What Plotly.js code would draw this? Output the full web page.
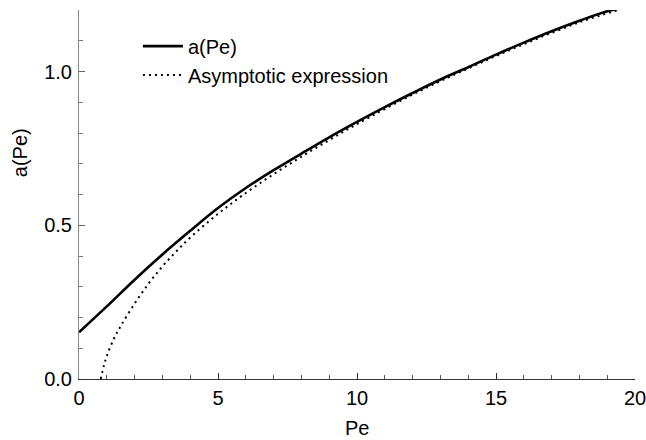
<!DOCTYPE html>
<html>
<head>
<meta charset="utf-8">
<script src="https://cdn.plot.ly/plotly-3.0.1.min.js"></script>
<style>html,body{margin:0;padding:0;background:#fff;}#chart{width:646px;height:440px;}</style>
</head>
<body>
<div id="chart"></div>
<script>
// a(Pe) curve
const peExact = [0, 1, 2, 3, 4, 5, 6, 7, 8, 9, 10, 11, 12, 13, 14, 15, 16, 17, 18, 19, 19.5];
const aExact  = [0.152, 0.236, 0.323, 0.405, 0.482, 0.556, 0.621, 0.679, 0.733, 0.786, 0.836, 0.884, 0.930, 0.974, 1.014, 1.055, 1.094, 1.131, 1.165, 1.196, 1.206];
// Asymptotic expression
const peAsym = [0.78, 0.9, 1, 1.25, 1.5, 2, 2.5, 3, 3.5, 4, 5, 6, 7, 8, 9, 10, 12, 14, 16, 18, 19.5];
const aAsym  = [0.0, 0.045, 0.075, 0.13, 0.172, 0.245, 0.310, 0.366, 0.415, 0.460, 0.537, 0.605, 0.666, 0.723, 0.777, 0.829, 0.925, 1.010, 1.089, 1.160, 1.203];
const xTicks = [0, 5, 10, 15, 20];
const yTicks = [0.0, 0.5, 1.0];
const yTickText = ["0.0", "0.5", "1.0"];
const labels = {x: "Pe", y: "a(Pe)", s1: "a(Pe)", s2: "Asymptotic expression"};

const FONT = "Liberation Sans, Arial, Helvetica, sans-serif";
const FS = 20;

const traces = [
  {x: peExact, y: aExact, type: "scatter", mode: "lines", name: labels.s1, cliponaxis: false,
   line: {color: "#000", width: 2.6, shape: "spline"}},
  {x: peAsym, y: aAsym, type: "scatter", mode: "lines", name: labels.s2, cliponaxis: false,
   line: {color: "#000", width: 2, dash: "2px,4px", shape: "spline"}}
];

const layout = {
  width: 646, height: 440,
  margin: {l: 79, r: 11, t: 10, b: 61},
  paper_bgcolor: "#fff", plot_bgcolor: "#fff",
  font: {family: FONT, size: FS, color: "#000"},
  showlegend: true,
  legend: {x: 0.106, y: 0.955, xanchor: "left", yanchor: "top", bgcolor: "rgba(0,0,0,0)",
           itemwidth: 40, font: {family: FONT, size: FS, color: "#000"}, tracegroupgap: 0},
  xaxis: {range: [0, 20], tickvals: xTicks, ticktext: xTicks.map(String),
          showgrid: false, zeroline: false, showline: true, linecolor: "#333", linewidth: 1,
          ticks: "inside", ticklen: 6, tickcolor: "#333", tickwidth: 1,
          minor: {dtick: 1, ticks: "inside", ticklen: 4, tickcolor: "#555", showgrid: false},
          tickfont: {family: FONT, size: FS, color: "#000"}, ticklabelstandoff: 1,
          ticklabeloverflow: "allow"},
  yaxis: {range: [0, 1.2], tickvals: yTicks, ticktext: yTickText,
          showgrid: false, zeroline: false, showline: true, linecolor: "#888", linewidth: 1,
          ticks: "inside", ticklen: 6, tickcolor: "#666", tickwidth: 1,
          minor: {dtick: 0.1, tick0: 0, ticks: "inside", ticklen: 4, tickcolor: "#777", showgrid: false},
          tickfont: {family: FONT, size: FS, color: "#000"}, ticklabelstandoff: 2,
          ticklabeloverflow: "allow"},
  annotations: [
    {text: labels.y, xref: "paper", yref: "paper", x: 0, xshift: -59, y: 0.612,
     xanchor: "center", yanchor: "middle", textangle: -90, showarrow: false,
     font: {family: FONT, size: FS, color: "#000"}},
    {text: labels.x, xref: "paper", yref: "paper", x: 0.5, y: 0, yshift: -49,
     xanchor: "center", yanchor: "middle", showarrow: false,
     font: {family: FONT, size: FS, color: "#000"}}
  ]
};

Plotly.newPlot("chart", traces, layout, {displayModeBar: false, staticPlot: true});
</script>
</body>
</html>
